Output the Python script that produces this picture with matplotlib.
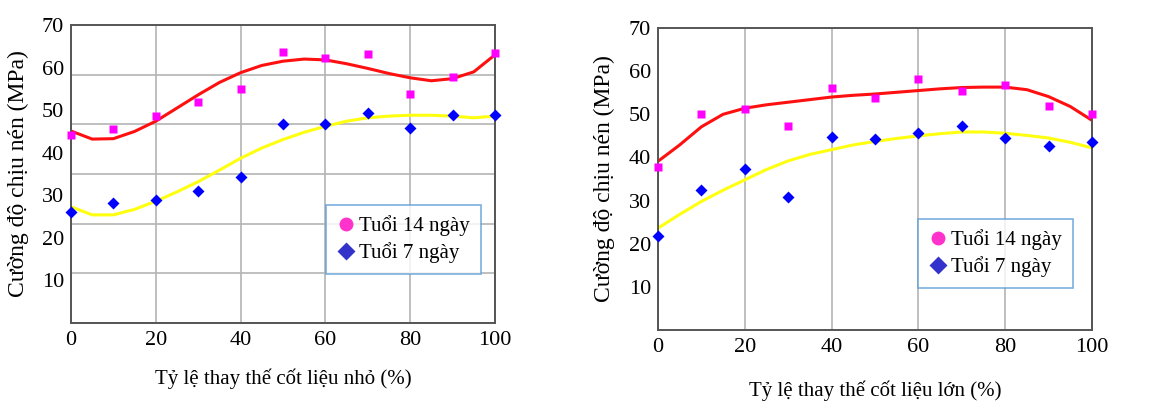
import numpy as np
import matplotlib.pyplot as plt
from matplotlib.lines import Line2D

plt.rcParams['font.family'] = ['Liberation Serif', 'DejaVu Serif']

# ---- data: fine aggregate (left) ----
x_pts = [0, 10, 20, 30, 40, 50, 60, 70, 80, 90, 100]
nho_14 = [44.2, 45.5, 48.6, 52.0, 55.0, 63.7, 62.3, 63.1, 53.8, 57.7, 63.5]
nho_7 = [26.0, 28.3, 28.9, 31.1, 34.4, 46.8, 46.7, 49.3, 45.9, 48.8, 48.9]

x_fit = [0, 5, 10, 15, 20, 25, 30, 35, 40, 45, 50, 55, 60, 65, 70, 75, 80, 85, 90, 95, 100]
nho_14_fit = [45.1, 43.2, 43.3, 45.0, 47.4, 50.5, 53.6, 56.5, 58.8, 60.5, 61.5, 62.0, 61.8,
              60.9, 59.8, 58.6, 57.6, 56.9, 57.4, 59.0, 63.0]
nho_7_fit = [27.3, 25.4, 25.4, 26.7, 28.6, 30.8, 33.2, 35.9, 38.7, 41.1, 43.1, 44.8, 46.2,
             47.4, 48.2, 48.6, 48.8, 48.8, 48.6, 48.2, 48.6]

# ---- data: coarse aggregate (right) ----
lon_14 = [37.7, 50.1, 51.2, 47.4, 56.1, 53.8, 58.2, 55.3, 56.8, 52.0, 50.1]
lon_7 = [21.8, 32.5, 37.4, 30.9, 44.7, 44.2, 45.6, 47.3, 44.6, 42.7, 43.5]

lon_14_fit = [39.1, 42.9, 47.1, 50.0, 51.4, 52.2, 52.8, 53.4, 54.0, 54.4, 54.7, 55.1, 55.5,
              55.9, 56.2, 56.3, 56.3, 55.7, 54.1, 51.8, 48.6]
lon_7_fit = [23.6, 26.8, 29.8, 32.4, 34.8, 37.2, 39.2, 40.7, 41.8, 42.9, 43.7, 44.4, 45.0,
             45.5, 45.9, 45.9, 45.6, 45.1, 44.5, 43.5, 42.2]

y_ticks = [10, 20, 30, 40, 50, 60, 70]
x_ticks = [0, 20, 40, 60, 80, 100]
ylabel = "Cường độ chịu nén (MPa)"
legend_labels = ["Tuổi 14 ngày", "Tuổi 7 ngày"]

fig = plt.figure(figsize=(11.7, 4.01), dpi=100)
W, H = 1170, 401

def make_axes(px_left, px_top, px_right, px_bottom):
    return fig.add_axes([px_left / W, 1 - px_bottom / H,
                         (px_right - px_left) / W, (px_bottom - px_top) / H])

ax1 = make_axes(71, 25, 495, 323)
ax2 = make_axes(658, 28, 1092, 330)

def style(ax, grid_y):
    ax.set_xlim(0, 100)
    ax.set_ylim(0, 70)
    ax.set_xticks(x_ticks)
    ax.set_yticks(y_ticks)
    ax.set_yticks(grid_y, minor=True)
    ax.tick_params(which='both', length=0, labelsize=16, colors='black')
    ax.tick_params(axis='x', pad=6)
    ax.tick_params(axis='y', pad=5)
    ax.grid(axis='x', color='#b4b4b4', linewidth=1.2)
    ax.grid(axis='y', which='minor', color='#b4b4b4', linewidth=1.2)
    for s in ax.spines.values():
        s.set_color('#555555')
        s.set_linewidth(1.4)
    ax.set_axisbelow(True)
    ax.set_ylabel(ylabel, fontsize=17)
    ax.yaxis.set_label_coords(-0.10, 0.5)

def draw(ax, f14, f7, p14, p7):
    ax.plot(x_fit, f14, color='#ff1010', lw=2.2, zorder=2, solid_capstyle='round')
    ax.plot(x_fit, f7, color='#ffff10', lw=2.2, zorder=2, solid_capstyle='round')
    ax.plot(x_pts, p14, 's', color='#ff00ff', ms=6, mec='none', zorder=3, clip_on=False)
    ax.plot(x_pts, p7, 'D', color='#0000ff', ms=6, mec='none', zorder=3, clip_on=False)

def legend(ax, loc_px):
    handles = [Line2D([], [], marker='o', ls='none', color='#ff33cc', ms=10, mec='none'),
               Line2D([], [], marker='D', ls='none', color='#3333cc', ms=9, mec='none')]
    x0, y0 = loc_px
    lg = ax.legend(handles, legend_labels, loc='upper left',
                   bbox_to_anchor=(x0 / W, 1 - y0 / H), bbox_transform=fig.transFigure,
                   fontsize=15, frameon=True, fancybox=False, handlelength=0.9,
                   handletextpad=0.2, borderpad=0.5, labelspacing=0.3, borderaxespad=0)
    lg.get_frame().set_edgecolor('#5b9bd5')
    lg.get_frame().set_linewidth(1.2)

# left chart: gridlines split the axis into six equal parts
style(ax1, np.linspace(0, 70, 7))
draw(ax1, nho_14_fit, nho_7_fit, nho_14, nho_7)
ax1.set_xlabel("Tỷ lệ thay thế cốt liệu nhỏ (%)", fontsize=15, labelpad=13)
legend(ax1, (326, 205))

# right chart
style(ax2, y_ticks)
draw(ax2, lon_14_fit, lon_7_fit, lon_14, lon_7)
ax2.set_xlabel("Tỷ lệ thay thế cốt liệu lớn (%)", fontsize=15, labelpad=17)
legend(ax2, (918, 219))

fig.savefig("out.png", dpi=100)
